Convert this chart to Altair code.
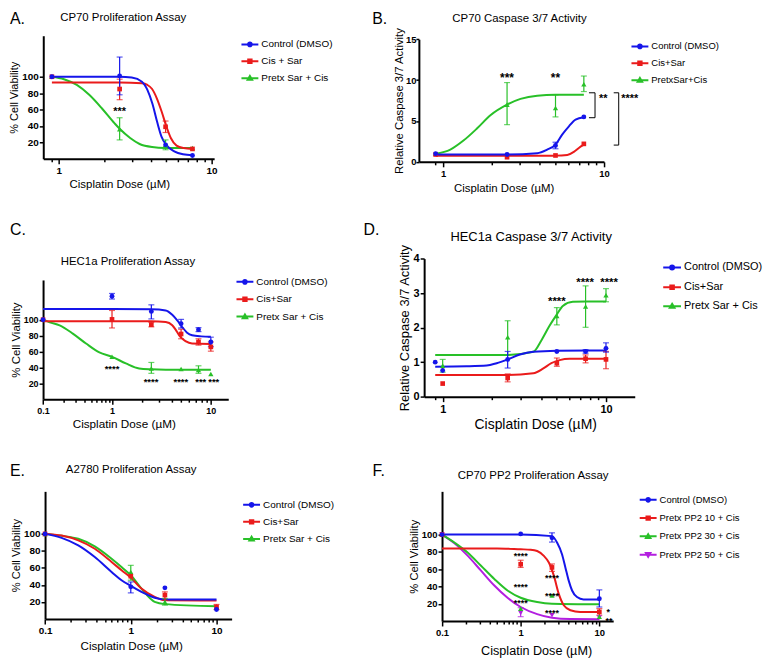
import altair as alt
import pandas as pd

FONT = "Liberation Sans"
BLUE = "#1515EA"
RED = "#EA1B1B"
GREEN = "#28C028"
PURPLE = "#B31FE0"
XTITLE = "Cisplatin Dose (µM)"

# ---------------- Panel A: CP70 Proliferation Assay ----------------
A_dose = [0.9, 2.5, 5, 7.5]
A_ctrl = [100, 101, 17, 4]
A_ctrl_lo = [None, 78, None, None]
A_ctrl_hi = [None, 124, None, None]
A_cis = [100, 85, 39, 12]
A_cis_lo = [None, 72, 32, None]
A_cis_hi = [None, 97, 46, None]
A_pre = [100, 36, 17, 13]
A_pre_lo = [None, 23, 11, None]
A_pre_hi = [None, 50, 23, None]
A_fit_ctrl_x = [0.9, 1.5, 2.5, 3.0, 3.5, 3.8, 4.1, 4.4, 4.7, 5.05, 5.7, 6.5, 7.5]
A_fit_ctrl_y = [100, 100, 100, 99, 94, 84, 67, 45, 27, 17, 9, 5.4, 4.2]
A_fit_cis_x = [0.9, 2.5, 3.5, 3.8, 4.08, 4.38, 4.71, 5.06, 5.41, 5.9, 6.56, 7.5]
A_fit_cis_y = [93, 93, 92, 90, 85, 73.7, 57.6, 39.4, 25.3, 16, 13, 12]
A_fit_pre_x = [0.9, 1.08, 1.31, 1.58, 1.91, 2.31, 2.5, 2.93, 3.38, 4.08, 5.0, 7.5]
A_fit_pre_y = [100, 97, 90, 78, 61.6, 43.4, 36.5, 25.3, 18, 14.3, 13.2, 13]
A_star_x = [2.5]
A_star_y = [60.5]
A_star_t = ["***"]
A_names = ["Control (DMSO)", "Cis + Sar", "Pretx Sar + Cis"]

# ---------------- Panel B: CP70 Caspase 3/7 Activity ----------------
B_dose = [0.9, 2.5, 5, 7.5]
B_ctrl = [1.0, 0.9, 2.0, 5.5]
B_ctrl_lo = [None, None, 1.6, None]
B_ctrl_hi = [None, None, 2.4, None]
B_cis = [0.9, 0.57, 0.78, 2.2]
B_cis_lo = [None, None, None, None]
B_cis_hi = [None, None, None, None]
B_pre = [1.0, 7.0, 6.6, 9.5]
B_pre_lo = [None, 4.55, 5.5, 8.6]
B_pre_hi = [None, 9.7, 8.2, 10.5]
B_fit_ctrl_x = [0.9, 2.5, 3.85, 4.44, 5.0, 5.5, 6.06, 6.66, 7.5]
B_fit_ctrl_y = [0.9, 0.9, 1.06, 1.5, 2.1, 3.34, 4.35, 5.17, 5.45]
B_fit_cis_x = [0.9, 2.5, 5.0, 5.92, 6.5, 6.98, 7.5]
B_fit_cis_y = [0.75, 0.75, 0.76, 0.85, 1.22, 1.7, 2.1]
B_fit_pre_x = [0.9, 1.11, 1.34, 1.63, 1.97, 2.5, 3.03, 3.85, 5.0, 7.5]
B_fit_pre_y = [1.0, 1.5, 2.6, 4.1, 5.7, 7.0, 7.7, 8.1, 8.2, 8.2]
B_star_x = [2.5, 5]
B_star_y = [10.6, 10.6]
B_star_t = ["***", "**"]
B_brv_x = [8.8, 12.35]
B_brv_y1 = [8.45, 8.45]
B_brv_y2 = [5.4, 2.05]
B_brh_x1 = [8.07, 8.07, 11.5, 11.5]
B_brh_x2 = [8.8, 8.8, 12.35, 12.35]
B_brh_y = [8.45, 5.4, 8.45, 2.05]
B_brt_x = [9.3, 12.8]
B_brt_y = [8.1, 8.1]
B_brt_t = ["**", "****"]
B_names = ["Control (DMSO)", "Cis+Sar", "PretxSar+Cis"]

# ---------------- Panel C: HEC1a Proliferation Assay ----------------
C_dose = [0.1, 1, 2.5, 5, 7.5, 10]
C_ctrl = [100, 129.5, 110.4, 95, 87.5, 72]
C_ctrl_lo = [None, 126, 101, 89.6, 85, 66]
C_ctrl_hi = [None, 133, 118.7, 100.4, 90, 78]
C_cis = [100, 100.4, 93.7, 82, 72, 65.8]
C_cis_lo = [None, 89.6, 91, 76, 68, 60.4]
C_cis_hi = [None, 111.6, 96.5, 88, 76, 72]
C_pre = [100, 53.3, 38.7, 38, 36.6, 31.6]
C_pre_lo = [None, None, 32.5, None, 32.5, None]
C_pre_hi = [None, None, 46.2, None, 42, None]
C_fit_ctrl_x = [0.1, 1, 2.5, 3.49, 4.07, 4.57, 5.13, 5.75, 6.46, 8, 10]
C_fit_ctrl_y = [113.5, 113.5, 113, 111.6, 106.2, 99.1, 90.8, 83.7, 80.4, 79, 78.5]
C_fit_cis_x = [0.1, 1, 2.5, 3.5, 4.07, 4.4, 4.75, 5.1, 5.54, 6.46, 10]
C_fit_cis_y = [98, 98, 98, 97, 93, 87.5, 81, 76.5, 73, 70, 69.5]
C_fit_pre_x = [0.1, 0.125, 0.174, 0.27, 0.42, 0.656, 1, 1.38, 1.88, 2.5, 3.5, 5, 10]
C_fit_pre_y = [100, 96.7, 92.9, 82.5, 70, 58.8, 53.3, 45, 38.7, 37.5, 37, 37, 37]
C_star_x = [1, 2.48, 4.97, 7.9, 10.7]
C_star_y = [41, 25, 25, 25, 25]
C_star_t = ["****", "****", "****", "***", "***"]
C_names = ["Control (DMSO)", "Cis+Sar", "Pretx Sar + Cis"]

# ---------------- Panel D: HEC1a Caspase 3/7 Activity ----------------
D_dose = [0.9, 1, 2.5, 5, 7.5, 10]
D_ctrl = [1.0, 0.76, 1.08, 1.31, 1.31, 1.40]
D_ctrl_lo = [None, None, 0.83, None, 1.26, 1.29]
D_ctrl_hi = [None, None, 1.31, None, 1.36, 1.56]
D_cis = [None, 0.38, 0.54, 0.97, 1.10, 1.08]
D_cis_lo = [None, None, 0.43, 0.88, 0.98, 0.81]
D_cis_hi = [None, None, 0.66, 1.12, 1.21, 1.31]
D_pre = [None, 0.9, 1.72, 2.34, 2.61, 2.94]
D_pre_lo = [None, 0.71, 1.21, 2.08, 2.01, 2.75]
D_pre_hi = [None, 1.08, 2.2, 2.58, 3.21, 3.13]
D_fit_ctrl_x = [0.9, 1.4, 1.86, 2.14, 2.5, 2.97, 3.59, 5, 10]
D_fit_ctrl_y = [0.87, 0.88, 0.9, 0.97, 1.08, 1.22, 1.3, 1.33, 1.34]
D_fit_cis_x = [0.9, 2.5, 3.59, 4.11, 4.63, 5.2, 5.98, 7.5, 10]
D_fit_cis_y = [0.63, 0.63, 0.68, 0.81, 0.97, 1.06, 1.1, 1.1, 1.1]
D_fit_pre_x = [0.9, 2.5, 3.59, 4.02, 4.52, 5.0, 5.44, 6.27, 7.5, 10]
D_fit_pre_y = [1.21, 1.21, 1.3, 1.63, 2.06, 2.38, 2.63, 2.75, 2.76, 2.76]
D_star_x = [5, 7.45, 10.45]
D_star_y = [2.82, 3.38, 3.38]
D_star_t = ["****", "****", "****"]
D_names = ["Control (DMSO)", "Cis+Sar", "Pretx Sar + Cis"]

# ---------------- Panel E: A2780 Proliferation Assay ----------------
E_dose = [0.1, 1, 2.5, 10]
E_ctrl = [100, 37.7, 36.5, 11.1]
E_ctrl_lo = [None, 30.6, None, None]
E_ctrl_hi = [None, 43.5, None, None]
E_cis = [100, 50.2, 28, 14]
E_cis_lo = [None, None, 22, 11]
E_cis_hi = [None, None, 31.8, 17]
E_pre = [100, 55.2, 20, 14]
E_pre_lo = [None, 45.5, 16.2, None]
E_pre_hi = [None, 63, 24, None]
E_fit_x = [0.1, 0.156, 0.244, 0.38, 0.597, 0.78, 1.0, 1.33, 1.9, 2.5, 10]
E_fit_ctrl_y = [100, 95.3, 86.4, 72.7, 55.2, 45.5, 38.8, 31.8, 24.8, 22.8, 22.8]
E_fit_cis_y = [100, 98, 92.3, 82.5, 67, 57.2, 48.5, 35.7, 26, 22, 21.5]
E_fit_pre_y = [100, 97.7, 94.2, 85.3, 70.8, 61, 51.3, 35.7, 20, 17.4, 15]
E_names = ["Control (DMSO)", "Cis+Sar", "Pretx Sar + Cis"]

# ---------------- Panel F: CP70 PP2 Proliferation Assay ----------------
F_dose = [0.1, 1, 2.5, 10]
F_ctrl = [100, 100.8, 96.2, 25.7]
F_ctrl_lo = [None, None, 91.3, 16.2]
F_ctrl_hi = [None, None, 102, 36]
F_p10 = [100, 65.7, 62, 10.5]
F_p10_lo = [None, 62, 57.4, 6.7]
F_p10_hi = [None, 70.3, 66, 14.3]
F_p30 = [100, 14.3, 29.6, 5]
F_p30_lo = [None, None, None, None]
F_p30_hi = [None, None, None, None]
F_p50 = [100, 9.4, 6.7, 4]
F_p50_lo = [None, 5, None, None]
F_p50_hi = [None, 15.4, None, None]
F_fit_ctrl_x = [0.1, 1, 2.5, 2.91, 3.36, 3.7, 4.08, 4.5, 5.2, 6.3, 10]
F_fit_ctrl_y = [100, 100, 98.2, 90.5, 77, 62, 46.7, 35.3, 27.7, 25, 25]
F_fit_p10_x = [0.1, 0.5, 1, 1.34, 1.62, 1.97, 2.28, 2.64, 3.05, 3.53, 4.28, 5.72, 10]
F_fit_p10_y = [84, 84, 83, 82.5, 81, 75.3, 67.7, 52.5, 31.4, 18.2, 12.5, 10.5, 10.5]
F_fit_p30_x = [0.1, 0.145, 0.213, 0.313, 0.462, 0.68, 1, 1.62, 2.5, 10]
F_fit_p30_y = [100, 90.5, 79, 63.9, 48.6, 35.3, 26.9, 21.9, 20, 19.3]
F_fit_p50_x = [0.1, 0.145, 0.213, 0.313, 0.462, 0.68, 1, 1.62, 2.5, 4.28, 10]
F_fit_p50_y = [100, 89.7, 75.3, 58.2, 41, 26.9, 16.2, 7.9, 3.7, 2.2, 2]
F_star_x = [1, 1, 1, 2.5, 2.5, 2.5, 13, 13.3]
F_star_y = [78, 41.7, 23.9, 52.5, 32.2, 11.6, 13, 2.2]
F_star_t = ["****", "****", "****", "****", "****", "****", "*", "**"]
F_names = ["Control (DMSO)", "Pretx PP2 10 + Cis", "Pretx PP2 30 + Cis", "Pretx PP2 50 + Cis"]

# tick values
TICKS_1_10 = [0.9, 1, 2, 3, 4, 5, 6, 7, 8, 9, 10]
TICKS_01_10 = [0.1, 0.2, 0.3, 0.4, 0.5, 0.6, 0.7, 0.8, 0.9, 1, 2, 3, 4, 5, 6, 7, 8, 9, 10]

# ---------------- styling helpers ----------------
LINE = "M-1.6,0H1.6"
LEG_PATH = {
    "circle": LINE + "M0.36,0A0.36,0.36,0,1,1,-0.36,0A0.36,0.36,0,1,1,0.36,0Z",
    "square": LINE + "M-0.32,-0.32H0.32V0.32H-0.32Z",
    "triangle-up": LINE + "M0,-0.42L0.42,0.3H-0.42Z",
    "triangle-down": LINE + "M0,0.42L0.42,-0.3H-0.42Z",
}
PT_SIZE = {"circle": 24, "square": 22, "triangle-up": 28, "triangle-down": 28}


def ser(name, color, shape, dose, y, lo, hi, fx, fy):
    return dict(name=name, color=color, shape=shape, dose=dose, y=y, lo=lo, hi=hi, fx=fx, fy=fy)


def make_panel(c):
    bottom = c["bottom"]
    xs = alt.Scale(type="log", domain=c["xdom"], range=c["xrange"], nice=False)
    ys = alt.Scale(type="linear", domain=c["ydom"], range=[bottom, c["top"]], nice=False, zero=False)
    lab_test = "indexof(%s, datum.value) >= 0" % str(c["xlabels"])
    xax = alt.Axis(
        values=c["xticks"], format="~g", labelExpr=lab_test + " ? datum.label : ''",
        tickSize={"condition": {"test": lab_test, "value": 5}, "value": 3},
        offset=bottom - c["H"],
        title=XTITLE, titleX=c["xtx"], titleY=c["xty"], titleBaseline="middle",
        titleFont=FONT, titleFontSize=c["xtfs"], titleFontWeight="normal", titleColor="black",
        labelFont=FONT, labelFontSize=c["lfs"], labelFontWeight="bold", labelColor="black",
        labelPadding=2, labelFlush=False, labelOverlap=False,
        domainColor="black", domainWidth=2, tickColor="black", tickWidth=1.5, grid=False,
    )
    yax = alt.Axis(
        values=c["yticks"], title=c["ytitle"], titleFont=FONT, titleFontSize=c["ytfs"],
        titleFontWeight="normal", titleColor="black", titlePadding=c.get("ytpad", 2),
        labelFont=FONT, labelFontSize=c["lfs"], labelFontWeight="bold", labelColor="black",
        labelPadding=c.get("ylpad", 1), labelFlush=False, tickSize=c.get("ytick", 4), offset=-c["dx"],
        domainColor="black", domainWidth=2, tickColor="black", tickWidth=1.5, grid=False,
    )

    def X(f):
        return alt.X(f + ":Q", scale=xs, axis=xax)

    def Y(f):
        return alt.Y(f + ":Q", scale=ys, axis=yax)

    layers = []
    series = c["series"]
    for s in reversed(series):
        df = pd.DataFrame({"dose": s["fx"], "val": s["fy"]})
        layers.append(alt.Chart(df).mark_line(color=s["color"], strokeWidth=2, interpolate="monotone")
                      .encode(x=X("dose"), y=Y("val")))
    for s in reversed(series):
        rows = [(d, lo, hi) for d, lo, hi in zip(s["dose"], s["lo"], s["hi"]) if lo is not None]
        if rows:
            df = pd.DataFrame(rows, columns=["dose", "lo", "hi"])
            layers.append(alt.Chart(df).mark_rule(color=s["color"], strokeWidth=1.2)
                          .encode(x=X("dose"), y=Y("lo"), y2="hi:Q"))
            for f in ("lo", "hi"):
                layers.append(alt.Chart(df).mark_tick(color=s["color"], orient="horizontal", size=6, thickness=1.2)
                              .encode(x=X("dose"), y=Y(f)))
    for s in reversed(series):
        df = pd.DataFrame({"dose": s["dose"], "val": s["y"]}).dropna()
        layers.append(alt.Chart(df).mark_point(filled=True, opacity=1, shape=s["shape"],
                                               size=PT_SIZE[s["shape"]], color=s["color"])
                      .encode(x=X("dose"), y=Y("val")))
    if c.get("stars"):
        sx, sy, st = c["stars"]
        df = pd.DataFrame({"dose": sx, "val": sy, "t": st})
        layers.append(alt.Chart(df).mark_text(font=FONT, fontSize=c["sfs"], fontWeight="bold", color="black",
                                              baseline="middle", dy=round(0.27 * c["sfs"], 1))
                      .encode(x=X("dose"), y=Y("val"), text="t:N"))
    for extra in c.get("extra", []):
        layers.append(extra(X, Y))
    # panel letter and panel title
    layers.append(alt.Chart(pd.DataFrame({"t": [c["letter"]]}))
                  .mark_text(font=FONT, fontSize=16, align="left", baseline="middle", color="black")
                  .encode(text="t:N", x=alt.value(c["lx"]), y=alt.value(c["ly"])))
    layers.append(alt.Chart(pd.DataFrame({"t": [c["title"]]}))
                  .mark_text(font=FONT, fontSize=c["tfs"], align="center", baseline="middle", color="black")
                  .encode(text="t:N", x=alt.value(c["tcx"]), y=alt.value(c["ty"])))
    # legend carrier
    names = [s["name"] for s in series]
    cols = [s["color"] for s in series]
    paths = [LEG_PATH[s["shape"]] for s in series]
    leg = alt.Legend(orient="none", legendX=c["legx"], legendY=c["legy"], title=None,
                     labelFont=FONT, labelFontSize=c["legfs"], labelColor="black", labelLimit=300,
                     symbolSize=c.get("symsize", 113), symbolStrokeWidth=2, symbolOpacity=1,
                     labelOffset=5, rowPadding=c["rowpad"], padding=0)
    ldf = pd.DataFrame({"series": names})
    layers.append(alt.Chart(ldf).mark_point(filled=True, opacity=0).encode(
        fill=alt.Fill("series:N", scale=alt.Scale(domain=names, range=cols), legend=leg),
        stroke=alt.Stroke("series:N", scale=alt.Scale(domain=names, range=cols), legend=leg),
        shape=alt.Shape("series:N", scale=alt.Scale(domain=names, range=paths), legend=leg),
    ))
    W = c["dx"] + c["w"]
    return alt.layer(*layers).properties(width=W, height=c["H"])


def b_brackets(X, Y):
    v = pd.DataFrame({"x1": B_brv_x, "y1": B_brv_y1, "y2": B_brv_y2})
    h = pd.DataFrame({"x1": B_brh_x1, "x2": B_brh_x2, "y1": B_brh_y})
    t = pd.DataFrame({"x1": B_brt_x, "y1": B_brt_y, "t": B_brt_t})
    return alt.layer(
        alt.Chart(v).mark_rule(color="black", strokeWidth=1).encode(x=X("x1"), y=Y("y1"), y2="y2:Q"),
        alt.Chart(h).mark_rule(color="black", strokeWidth=1).encode(x=X("x1"), x2="x2:Q", y=Y("y1")),
        alt.Chart(t).mark_text(font=FONT, fontSize=11, fontWeight="bold", color="black", align="left",
                               baseline="middle", dy=3).encode(x=X("x1"), y=Y("y1"), text="t:N"),
    )


ROW1_H, ROW2_H, ROW3_H = 152.7, 238.6, 222.9

A = make_panel(dict(
    series=[ser(A_names[0], BLUE, "circle", A_dose, A_ctrl, A_ctrl_lo, A_ctrl_hi, A_fit_ctrl_x, A_fit_ctrl_y),
            ser(A_names[1], RED, "square", A_dose, A_cis, A_cis_lo, A_cis_hi, A_fit_cis_x, A_fit_cis_y),
            ser(A_names[2], GREEN, "triangle-up", A_dose, A_pre, A_pre_lo, A_pre_hi, A_fit_pre_x, A_fit_pre_y)],
    dx=33.5, w=172, H=ROW1_H, bottom=149.6, top=25.75, xdom=[0.79, 10.4], xrange=[33.5, 205.5],
    ydom=[0, 150], yticks=[20, 40, 60, 80, 100], xticks=TICKS_1_10, xlabels=[1, 10],
    xtx=110, xty=26.4, xtfs=11.5, lfs=10, ytitle="% Cell Viability", ytfs=11,
    title="CP70 Proliferation Assay", tfs=11.5, tcx=114, ty=7.5,
    letter="A.", lx=0, ly=8.5, legx=235, legy=28, legfs=10, rowpad=4,
    stars=(A_star_x, A_star_y, A_star_t), sfs=11,
))

B = make_panel(dict(
    series=[ser(B_names[0], BLUE, "circle", B_dose, B_ctrl, B_ctrl_lo, B_ctrl_hi, B_fit_ctrl_x, B_fit_ctrl_y),
            ser(B_names[1], RED, "square", B_dose, B_cis, B_cis_lo, B_cis_hi, B_fit_cis_x, B_fit_cis_y),
            ser(B_names[2], GREEN, "triangle-up", B_dose, B_pre, B_pre_lo, B_pre_hi, B_fit_pre_x, B_fit_pre_y)],
    dx=187.6, w=186.3, H=ROW1_H, bottom=152.7, top=29.3, xdom=[0.708, 10], xrange=[187.6, 373.9],
    ydom=[0, 15], yticks=[0, 5, 10, 15], xticks=TICKS_1_10, xlabels=[1, 10],
    xtx=272.9, xty=27.3, xtfs=11.5, lfs=9.5, ytitle="Relative Caspase 3/7 Activity", ytfs=11.4,
    ytick=3, ylpad=0, ytpad=1,
    title="CP70 Caspase 3/7 Activity", tfs=11.5, tcx=288.9, ty=9,
    letter="B.", lx=140.6, ly=8.5, legx=403.6, legy=30, legfs=9.5, rowpad=4,
    stars=(B_star_x, B_star_y, B_star_t), sfs=12, extra=[b_brackets],
))

C = make_panel(dict(
    series=[ser(C_names[0], BLUE, "circle", C_dose, C_ctrl, C_ctrl_lo, C_ctrl_hi, C_fit_ctrl_x, C_fit_ctrl_y),
            ser(C_names[1], RED, "square", C_dose, C_cis, C_cis_lo, C_cis_hi, C_fit_cis_x, C_fit_cis_y),
            ser(C_names[2], GREEN, "triangle-up", C_dose, C_pre, C_pre_lo, C_pre_hi, C_fit_pre_x, C_fit_pre_y)],
    dx=33.3, w=186.4, H=ROW2_H, bottom=238.6, top=118.6, xdom=[0.1, 1, 15], xrange=[33.3, 102.7, 219.7],
    ydom=[0, 150], yticks=[20, 40, 60, 80, 100], xticks=TICKS_01_10, xlabels=[0.1, 1, 10],
    xtx=114.5, xty=25, xtfs=11.8, lfs=9, ytitle="% Cell Viability", ytfs=11.5,
    title="HEC1a Proliferation Assay", tfs=11.5, tcx=118.7, ty=101,
    letter="C.", lx=0, ly=68.3, legx=230, legy=114, legfs=10, rowpad=4.5,
    stars=(C_star_x, C_star_y, C_star_t), sfs=9.5,
))

D = make_panel(dict(
    series=[ser(D_names[0], BLUE, "circle", D_dose, D_ctrl, D_ctrl_lo, D_ctrl_hi, D_fit_ctrl_x, D_fit_ctrl_y),
            ser(D_names[1], RED, "square", D_dose, D_cis, D_cis_lo, D_cis_hi, D_fit_cis_x, D_fit_cis_y),
            ser(D_names[2], GREEN, "triangle-up", D_dose, D_pre, D_pre_lo, D_pre_hi, D_fit_pre_x, D_fit_pre_y)],
    dx=192.9, w=212, H=ROW2_H, bottom=236.1, top=97.1, xdom=[0.77, 15], xrange=[192.9, 404.9],
    ydom=[0, 4], yticks=[0, 1, 2, 3, 4], xticks=TICKS_1_10, xlabels=[1, 10],
    xtx=304.7, xty=28.2, xtfs=14, lfs=11, ytitle="Relative Caspase 3/7 Activity", ytfs=13,
    title="HEC1a Caspase 3/7 Activity", tfs=13, tcx=300.6, ty=75,
    letter="D.", lx=131.9, ly=68.3, legx=435.5, legy=99, legfs=11, rowpad=6, symsize=125,
    stars=(D_star_x, D_star_y, D_star_t), sfs=11.5,
))

E = make_panel(dict(
    series=[ser(E_names[0], BLUE, "circle", E_dose, E_ctrl, E_ctrl_lo, E_ctrl_hi, E_fit_x, E_fit_ctrl_y),
            ser(E_names[1], RED, "square", E_dose, E_cis, E_cis_lo, E_cis_hi, E_fit_x, E_fit_cis_y),
            ser(E_names[2], GREEN, "triangle-up", E_dose, E_pre, E_pre_lo, E_pre_hi, E_fit_x, E_fit_pre_y)],
    dx=35.3, w=187.8, H=ROW3_H, bottom=220.8, top=92.4, xdom=[0.1, 15], xrange=[35.3, 223.1],
    ydom=[0, 150], yticks=[20, 40, 60, 80, 100], xticks=TICKS_01_10, xlabels=[0.1, 1, 10],
    xtx=122, xty=26.6, xtfs=11.7, lfs=10, ytitle="% Cell Viability", ytfs=11.2,
    title="A2780 Proliferation Assay", tfs=11.5, tcx=122, ty=71.4,
    letter="E.", lx=0, ly=71.7, legx=236.7, legy=99.4, legfs=10, rowpad=4.2,
))

F = make_panel(dict(
    series=[ser(F_names[0], BLUE, "circle", F_dose, F_ctrl, F_ctrl_lo, F_ctrl_hi, F_fit_ctrl_x, F_fit_ctrl_y),
            ser(F_names[1], RED, "square", F_dose, F_p10, F_p10_lo, F_p10_hi, F_fit_p10_x, F_fit_p10_y),
            ser(F_names[2], GREEN, "triangle-up", F_dose, F_p30, F_p30_lo, F_p30_hi, F_fit_p30_x, F_fit_p30_y),
            ser(F_names[3], PURPLE, "triangle-down", F_dose, F_p50, F_p50_lo, F_p50_hi, F_fit_p50_x, F_fit_p50_y)],
    dx=210.9, w=172.3, H=ROW3_H, bottom=222.9, top=92.4, xdom=[0.1, 15], xrange=[210.9, 383.2],
    ydom=[0, 150], yticks=[20, 40, 60, 80, 100], xticks=TICKS_01_10, xlabels=[0.1, 1, 10],
    xtx=305.6, xty=29.5, xtfs=12.7, lfs=9.5, ytitle="% Cell Viability", ytfs=11.3,
    title="CP70 PP2 Proliferation Assay", tfs=11.5, tcx=302.6, ty=76.7,
    letter="F.", lx=140.9, ly=71.7, legx=411.9, legy=94.4, legfs=9.5, rowpad=5.4,
    stars=(F_star_x, F_star_y, F_star_t), sfs=9,
))

chart = alt.concat(A, B, C, D, E, F, columns=2, spacing=0, bounds="flush").resolve_scale(
    x="independent", y="independent", fill="independent", stroke="independent", shape="independent"
).properties(padding=0).configure_view(stroke=None)

chart.save("out.html", embed_options={"renderer": "svg", "actions": False})
